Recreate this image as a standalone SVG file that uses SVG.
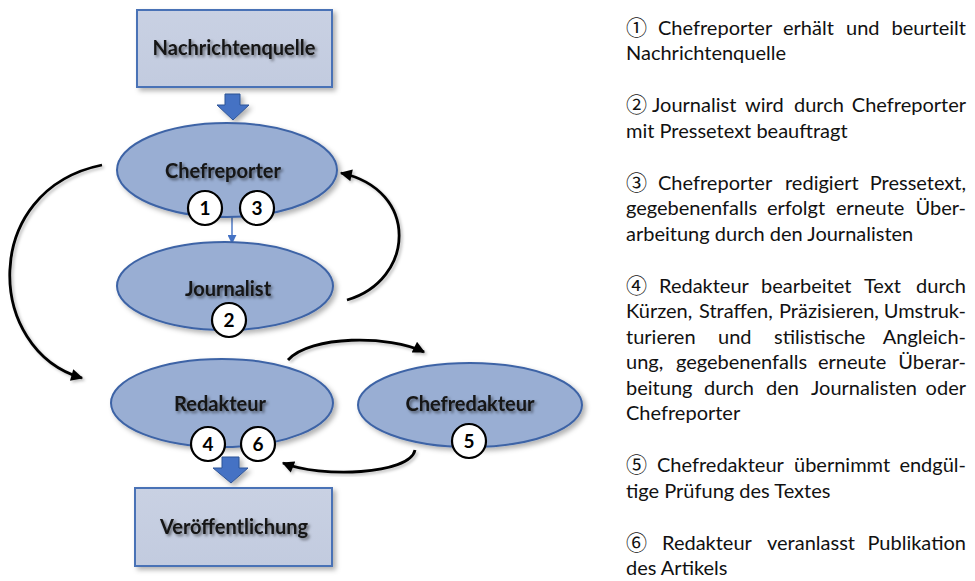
<svg xmlns="http://www.w3.org/2000/svg" width="975" height="581" viewBox="0 0 975 581">
<defs>
<filter id="shapeShadow" x="-20%" y="-20%" width="140%" height="150%">
<feDropShadow dx="3" dy="3" stdDeviation="2.5" flood-color="#000" flood-opacity="0.3"/>
</filter>
<filter id="txtShadow" x="-10%" y="-30%" width="120%" height="170%">
<feDropShadow dx="2" dy="2" stdDeviation="1.8" flood-color="#000" flood-opacity="0.5"/>
</filter>
<filter id="lineShadow" x="-20%" y="-20%" width="140%" height="140%">
<feDropShadow dx="2" dy="2" stdDeviation="1.5" flood-color="#000" flood-opacity="0.25"/>
</filter>
<marker id="arrowBlack" viewBox="0 0 10 10" refX="9" refY="5" markerWidth="13" markerHeight="12" markerUnits="userSpaceOnUse" orient="auto">
<path d="M0,0 L10,5 L0,10 Z" fill="#000"/>
</marker>
<marker id="arrowBlue" viewBox="0 0 10 10" refX="9" refY="5" markerWidth="9" markerHeight="9" markerUnits="userSpaceOnUse" orient="auto">
<path d="M0,0 L10,5 L0,10 Z" fill="#4472c4"/>
</marker>
<linearGradient id="boxGrad" x1="0" y1="0" x2="0" y2="1">
<stop offset="0" stop-color="#c9d1e3"/>
<stop offset="1" stop-color="#c2cbdf"/>
</linearGradient>
</defs>
<style>
.box { fill: url(#boxGrad); stroke: #4a72b6; stroke-width: 2; filter: url(#shapeShadow); }
.ell { fill: #99aed3; stroke: #3e64a6; stroke-width: 2; filter: url(#shapeShadow); }
.label { font-family: Lato, "Open Sans", "Liberation Sans", sans-serif; font-weight: bold; font-size: 20px; fill: #141414; text-anchor: middle; filter: url(#txtShadow); }
.numc { fill: #ffffff; stroke: #000000; stroke-width: 2.2; }
.numt { font-family: Lato, "Open Sans", "Liberation Sans", sans-serif; font-weight: bold; font-size: 19px; fill: #000; text-anchor: middle; }
.conn { fill: none; stroke: #000; stroke-width: 2.8; marker-end: url(#arrowBlack); filter: url(#lineShadow); }
.thin { fill: none; stroke: #4472c4; stroke-width: 1.4; marker-end: url(#arrowBlue); }
.block { fill: #4472c4; stroke: #2f5597; stroke-width: 1; filter: url(#shapeShadow); }
.desc { font-family: Lato, "Open Sans", "Liberation Sans", sans-serif; font-size: 20px; fill: #111111; }
.cd { font-family: "Noto Sans CJK JP", "Noto Sans CJK SC", "DejaVu Sans", sans-serif; font-size: 21px; }
.end { text-anchor: end; }
</style>

<g id="connectors">
<path class="conn" d="M102,165 C -20,190 -15,350 82,378"/>
<path class="conn" d="M347,300 C 415,280 420,190 341,173"/>
<path class="conn" d="M288,360 C 310,335 390,335 424,352"/>
<path class="conn" d="M415,450 C 410,475 320,478 283,463"/>
<path class="thin" d="M232,217 L232,243"/>
<path class="block" d="M225,94 H240 V105 H249 L233,120 L217,105 H225 Z"/>
<path class="block" d="M222,457 H239 V468 H248 L231,483 L213,468 H222 Z"/>
</g>

<g id="nachrichtenquelle">
<rect class="box" x="137" y="10" width="195" height="77"/>
<text class="label" x="234" y="55">Nachrichtenquelle</text>
</g>

<g id="chefreporter">
<ellipse class="ell" cx="227" cy="170" rx="110" ry="47"/>
<text class="label" x="223" y="178">Chefreporter</text>
<circle class="numc" cx="205" cy="208" r="17"/>
<text class="numt" x="205" y="215">1</text>
<circle class="numc" cx="257" cy="208" r="17"/>
<text class="numt" x="257" y="215">3</text>
</g>

<g id="journalist">
<ellipse class="ell" cx="225" cy="286" rx="108" ry="44"/>
<text class="label" x="228" y="296">Journalist</text>
<circle class="numc" cx="229" cy="320" r="17"/>
<text class="numt" x="229" y="327">2</text>
</g>

<g id="redakteur">
<ellipse class="ell" cx="222" cy="403" rx="111" ry="44"/>
<text class="label" x="220" y="411">Redakteur</text>
<circle class="numc" cx="208" cy="444" r="17"/>
<text class="numt" x="208" y="451">4</text>
<circle class="numc" cx="258" cy="444" r="17"/>
<text class="numt" x="258" y="451">6</text>
</g>

<g id="chefredakteur">
<ellipse class="ell" cx="470" cy="405" rx="112" ry="42"/>
<text class="label" x="470" y="411">Chefredakteur</text>
<circle class="numc" cx="469" cy="441" r="17"/>
<text class="numt" x="469" y="448">5</text>
</g>

<g id="veroeffentlichung">
<rect class="box" x="135" y="488" width="197" height="78"/>
<text class="label" x="234" y="534">Veröffentlichung</text>
</g>

<g id="legend">
<text class="desc" y="35"><tspan class="cd" x="626">①</tspan><tspan x="658">Chefreporter</tspan><tspan x="783">erhält</tspan><tspan x="846">und</tspan><tspan class="end" x="966">beurteilt</tspan></text>
<text class="desc" x="626" y="60">Nachrichtenquelle</text>

<text class="desc" y="112"><tspan class="cd" x="626">②</tspan><tspan x="652">Journalist</tspan><tspan x="745">wird</tspan><tspan x="794">durch</tspan><tspan class="end" x="966">Chefreporter</tspan></text>
<text class="desc" x="626" y="138">mit Pressetext beauftragt</text>

<text class="desc" y="190"><tspan class="cd" x="626">③</tspan><tspan x="658">Chefreporter</tspan><tspan x="785">redigiert</tspan><tspan class="end" x="966">Pressetext,</tspan></text>
<text class="desc" y="215"><tspan x="626">gegebenenfalls</tspan><tspan x="767">erfolgt</tspan><tspan x="836">erneute</tspan><tspan class="end" x="966">Über-</tspan></text>
<text class="desc" x="626" y="241">arbeitung durch den Journalisten</text>

<text class="desc" y="293"><tspan class="cd" x="626">④</tspan><tspan x="659">Redakteur</tspan><tspan x="761">bearbeitet</tspan><tspan x="864">Text</tspan><tspan class="end" x="966">durch</tspan></text>
<text class="desc" y="318"><tspan x="626">Kürzen,</tspan><tspan x="699">Straffen,</tspan><tspan x="779">Präzisieren,</tspan><tspan class="end" x="966">Umstruk-</tspan></text>
<text class="desc" y="344"><tspan x="626">turieren</tspan><tspan x="718">und</tspan><tspan x="774">stilistische</tspan><tspan class="end" x="966">Angleich-</tspan></text>
<text class="desc" y="369"><tspan x="626">ung,</tspan><tspan x="676">gegebenenfalls</tspan><tspan x="818">erneute</tspan><tspan class="end" x="966">Überar-</tspan></text>
<text class="desc" y="395"><tspan x="626">beitung</tspan><tspan x="704">durch</tspan><tspan x="766">den</tspan><tspan x="811">Journalisten</tspan><tspan class="end" x="966">oder</tspan></text>
<text class="desc" x="626" y="420">Chefreporter</text>

<text class="desc" y="472"><tspan class="cd" x="626">⑤</tspan><tspan x="657">Chefredakteur</tspan><tspan x="794">übernimmt</tspan><tspan class="end" x="966">endgül-</tspan></text>
<text class="desc" x="626" y="498">tige Prüfung des Textes</text>

<text class="desc" y="550"><tspan class="cd" x="626">⑥</tspan><tspan x="662">Redakteur</tspan><tspan x="767">veranlasst</tspan><tspan class="end" x="966">Publikation</tspan></text>
<text class="desc" x="626" y="575">des Artikels</text>
</g>
</svg>
